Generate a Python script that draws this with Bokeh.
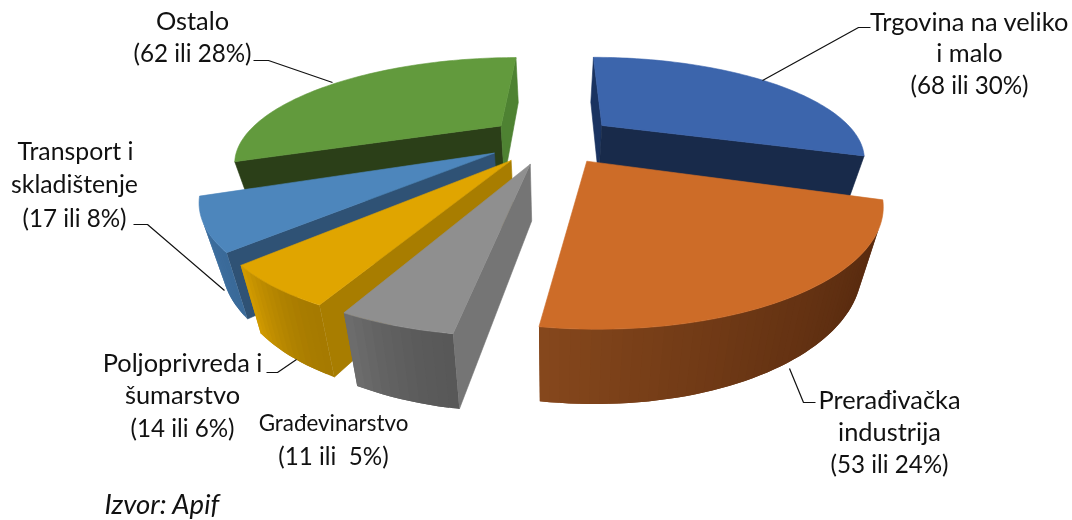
import math
from bokeh.plotting import figure
from bokeh.models import Range1d, ColumnDataSource
from bokeh.core.properties import value
from bokeh.embed import file_html
from bokeh.resources import INLINE

# ---- data ----
categories = ["Trgovina na veliko i malo", "Prerađivačka industrija", "Građevinarstvo",
              "Poljoprivreda i šumarstvo", "Transport i skladištenje", "Ostalo"]
counts = [68, 53, 11, 14, 17, 62]
percent_labels = [30, 24, 5, 6, 8, 28]
# slice sizes as drawn in the picture (share of the full circle, in %)
drawn_share = [30.0, 22.2, 4.7, 5.3, 6.9, 30.8]

# ---- styles ----
top_colors = ["#3C65AC", "#CD6C28", "#8F8F8F", "#E0A500", "#4D86BC", "#629A3D"]
start_wall = ["#1A3360", "#6B3A17", "#757575", "#A87D00", "#2F5275", "#2B3F18"]
end_wall = ["#182A4A", "#6B3A17", "#6E6E6E", "#A87D00", "#2F5275", "#4E8232"]
arc_from = ["#2D4D85", "#56290E", "#585858", "#A67A00", "#3A6A99", "#3F6B28"]
arc_to = ["#2D4D85", "#85471C", "#6C6C6C", "#D09A00", "#4A7DAF", "#3F6B28"]
paint_order = [5, 0, 4, 3, 2, 1]

# ---- projection (tilted, exploded pie) ----
VX, VY, KY, SX, DEPTH = 565.0, -170.0, 308.6, 258.0, 3.18
X0, EXPLODE = -0.055, 0.25
NX, SLANT, H0, H1, HREF = 552.0, 0.064, 15.0, 0.11, -215.0


def top(X, Y):
    w = 1.0 / (1.0 + Y / DEPTH)
    return VX + SX * X * w, VY + KY * w


def bottom(pt):
    x, y = pt
    return x + SLANT * (NX - x), y + H0 + H1 * (y - HREF)


def shoelace(q):
    return sum(q[i][0] * q[(i + 1) % 4][1] - q[(i + 1) % 4][0] * q[i][1] for i in range(4))


def mix(a, b, t):
    ca = [int(a[i:i + 2], 16) for i in (1, 3, 5)]
    cb = [int(b[i:i + 2], 16) for i in (1, 3, 5)]
    return "#%02x%02x%02x" % tuple(round(u + (v - u) * t) for u, v in zip(ca, cb))


total = sum(drawn_share)
bounds = [0.0]
for s in drawn_share:
    bounds.append(bounds[-1] + s / total * 2 * math.pi)

xs, ys, fills, strokes = [], [], [], []


def add(poly, color, stroke=True):
    xs.append([q[0] for q in poly])
    ys.append([q[1] for q in poly])
    fills.append(color)
    strokes.append(0.6 if stroke else 0.0)


for i in paint_order:
    a0, a1 = bounds[i], bounds[i + 1]
    mid = (a0 + a1) / 2
    ox, oy = X0 + EXPLODE * math.sin(mid), EXPLODE * math.cos(mid)
    n = max(8, int((a1 - a0) * 40))
    arc = [top(ox + math.sin(a0 + (a1 - a0) * k / n), oy + math.cos(a0 + (a1 - a0) * k / n))
           for k in range(n + 1)]
    apex = top(ox, oy)
    q = [apex, arc[0], bottom(arc[0]), bottom(apex)]
    if shoelace(q) < 0:
        add(q, start_wall[i])
    q = [arc[-1], apex, bottom(apex), bottom(arc[-1])]
    if shoelace(q) < 0:
        add(q, end_wall[i])
    for k in range(n):
        q = [arc[k], arc[k + 1], bottom(arc[k + 1]), bottom(arc[k])]
        if shoelace(q) < 0:
            # each band overlaps the next one, so that no seam shows
            j = min(k + 2, n)
            band = arc[k:j + 1] + [bottom(u) for u in reversed(arc[k:j + 1])]
            add(band, mix(arc_from[i], arc_to[i], (k / (n - 1)) ** 1.6), stroke=False)
    add([apex] + arc, top_colors[i])

p = figure(width=1072, height=520, output_backend="svg", toolbar_location=None,
           x_range=Range1d(0, 1072), y_range=Range1d(520, 0),
           min_border=0, outline_line_color=None, background_fill_color="white")
p.styles = {"position": "fixed", "left": "0px", "top": "0px"}
p.axis.visible = False
p.grid.visible = False

p.patches("xs", "ys", source=ColumnDataSource(dict(xs=xs, ys=ys, c=fills, w=strokes)),
          fill_color="c", line_color="c", line_width="w")

# ---- leader lines ----
leaders = [
    ([870, 858, 762], [27, 27, 80]),
    ([253, 268, 332], [60, 60, 82]),
    ([133, 147, 224], [224, 224, 290]),
    ([266, 277, 296], [372, 372, 359]),
    ([815, 803, 789], [402, 402, 368]),
]
for lx, ly in leaders:
    p.line(lx, ly, line_color="#111111", line_width=1.2)

# ---- labels ----
BIG, NUM, SMALL = 25.4, 24.2, 22.4
lines = [
    (969, 20, "Trgovina na veliko", BIG), (969, 51, "i malo", BIG),
    (969, 84, f"({counts[0]} ili {percent_labels[0]}%)", NUM),
    (889, 398, "Prerađivačka", BIG), (889, 430, "industrija", BIG),
    (889, 463, f"({counts[1]} ili {percent_labels[1]}%)", NUM),
    (333, 422, "Građevinarstvo", SMALL),
    (333, 455, f"({counts[2]} ili\u00a0 {percent_labels[2]}%)", NUM),
    (182, 361, "Poljoprivreda i", BIG), (182, 393, "šumarstvo", BIG),
    (182, 427, f"({counts[3]} ili {percent_labels[3]}%)", NUM),
    (75, 150, "Transport i", 24.8), (74, 183, "skladištenje", 24.8),
    (74, 217, f"({counts[4]} ili {percent_labels[4]}%)", NUM),
    (192, 19, "Ostalo", BIG), (192, 52, f"({counts[5]} ili {percent_labels[5]}%)", NUM),
]
for x, y, t, size in lines:
    p.text([x], [y], text=[t], text_font=value("Lato"), text_font_size=f"{size}px",
           text_align="center", text_baseline="middle", text_color="#111111")
p.text([104], [503], text=["Izvor: Apif"], text_font=value("Lato"), text_font_size="27.5px",
       text_font_style="italic", text_align="left", text_baseline="middle", text_color="#111111")

open("out.html", "w").write(file_html(p, INLINE))
